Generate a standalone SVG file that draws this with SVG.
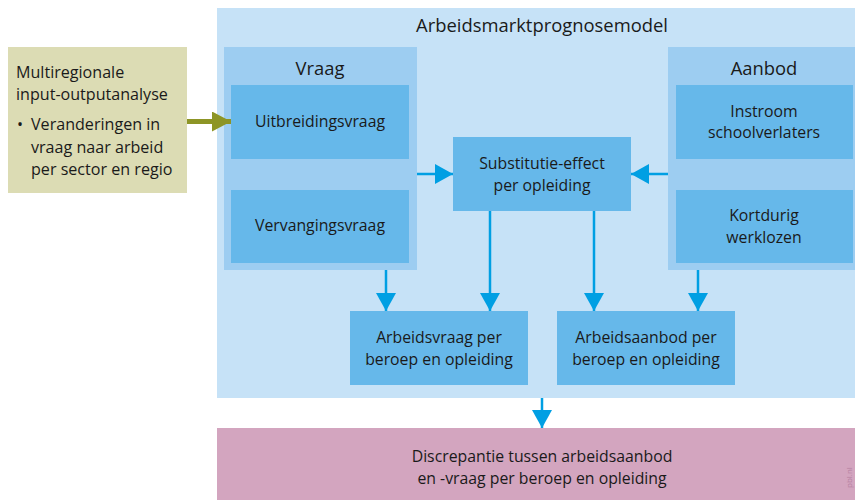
<svg xmlns="http://www.w3.org/2000/svg" width="855" height="500" viewBox="0 0 855 500">
<defs>
<style>
text{font-family:"Open Sans","Noto Sans","Liberation Sans",sans-serif;fill:#1a1a1a;text-anchor:middle}
.t{font-size:15.8px}
.l{font-size:16.1px;text-anchor:start}
.h{font-size:18.4px}
.main{fill:#c6e2f7}
.grp{fill:#9dcdf1}
.box{fill:#66b8ea}
.con{stroke:#009fe3;stroke-width:2.5;fill:none}
</style>
<marker id="ab" viewBox="0 0 18 20" refX="18" refY="10" markerWidth="18" markerHeight="20" markerUnits="userSpaceOnUse" orient="auto">
<path d="M0,0 L18,10 L0,20 Z" fill="#009fe3"/>
</marker>
<marker id="ao" viewBox="0 0 19 20" refX="19" refY="10" markerWidth="19" markerHeight="20" markerUnits="userSpaceOnUse" orient="auto">
<path d="M0,0 L19,10 L0,20 Z" fill="#8d9526"/>
</marker>
</defs>
<rect width="855" height="500" fill="#ffffff"/>

<g id="model">
<rect class="main" x="217" y="8" width="640" height="390"/>
<text class="h" x="542" y="32">Arbeidsmarktprognosemodel</text>
</g>

<g id="vraag">
<rect class="grp" x="224" y="47" width="193" height="223"/>
<text class="h" x="320" y="75">Vraag</text>
</g>
<g id="uitbreidingsvraag">
<rect class="box" x="231" y="85" width="178" height="74"/>
<text class="t" x="320" y="127">Uitbreidingsvraag</text>
</g>
<g id="vervangingsvraag">
<rect class="box" x="231" y="190" width="178" height="73"/>
<text class="t" x="320" y="231">Vervangingsvraag</text>
</g>

<g id="aanbod">
<rect class="grp" x="668" y="47" width="190" height="223"/>
<text class="h" x="764" y="75">Aanbod</text>
</g>
<g id="instroom">
<rect class="box" x="676" y="85" width="177" height="74"/>
<text class="t" x="764" y="117">Instroom</text>
<text class="t" x="764" y="138">schoolverlaters</text>
</g>
<g id="kortdurig">
<rect class="box" x="676" y="190" width="177" height="73"/>
<text class="t" x="764" y="221">Kortdurig</text>
<text class="t" x="764" y="243">werklozen</text>
</g>

<g id="substitutie">
<rect class="box" x="453" y="137" width="178" height="74"/>
<text class="t" x="542" y="169">Substitutie-effect</text>
<text class="t" x="542" y="191">per opleiding</text>
</g>

<g id="arbeidsvraag">
<rect class="box" x="350" y="311" width="178" height="74"/>
<text class="t" x="439" y="343">Arbeidsvraag per</text>
<text class="t" x="439" y="365">beroep en opleiding</text>
</g>
<g id="arbeidsaanbod">
<rect class="box" x="557" y="311" width="178" height="74"/>
<text class="t" x="646" y="343">Arbeidsaanbod per</text>
<text class="t" x="646" y="365">beroep en opleiding</text>
</g>

<g id="mrio">
<rect x="8" y="47" width="179" height="146" fill="#dcdcb4"/>
<text class="l" x="16" y="78">Multiregionale</text>
<text class="l" x="16" y="100">input-outputanalyse</text>
<text class="l" x="17" y="130">•</text>
<text class="l" x="31" y="130">Veranderingen in</text>
<text class="l" x="31" y="153">vraag naar arbeid</text>
<text class="l" x="31" y="175">per sector en regio</text>
</g>

<g id="discrepantie">
<rect x="217" y="428" width="640" height="74" fill="#d3a5bf"/>
<text class="t" x="542" y="462">Discrepantie tussen arbeidsaanbod</text>
<text class="t" x="542" y="484">en -vraag per beroep en opleiding</text>
<text x="852" y="488" transform="rotate(-90 852 488)" style="font-size:8px;fill:#b57fa0;text-anchor:start">pbl.nl</text>
</g>

<g id="connectors">
<line x1="187" y1="121.5" x2="231" y2="121.5" stroke="#8d9526" stroke-width="5" marker-end="url(#ao)"/>
<line class="con" x1="417" y1="174" x2="453" y2="174" marker-end="url(#ab)"/>
<line class="con" x1="668" y1="174" x2="631" y2="174" marker-end="url(#ab)"/>
<line class="con" x1="386" y1="270" x2="386" y2="311" marker-end="url(#ab)"/>
<line class="con" x1="490" y1="211" x2="490" y2="311" marker-end="url(#ab)"/>
<line class="con" x1="594" y1="211" x2="594" y2="311" marker-end="url(#ab)"/>
<line class="con" x1="698" y1="270" x2="698" y2="311" marker-end="url(#ab)"/>
<line class="con" x1="542" y1="398" x2="542" y2="428" marker-end="url(#ab)"/>
</g>
</svg>
